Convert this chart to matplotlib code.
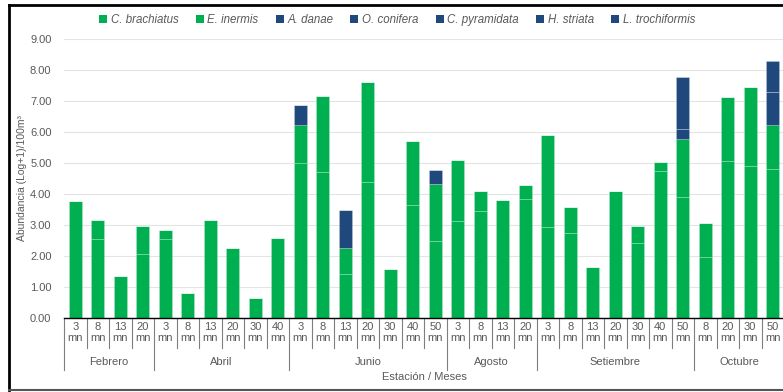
import matplotlib.pyplot as plt
import numpy as np
from matplotlib.lines import Line2D
from matplotlib.patches import Patch
from matplotlib.transforms import blended_transform_factory

plt.rcParams["font.family"] = ["Liberation Sans", "DejaVu Sans"]

# Stations (depth in mn) grouped by month
months = ["Febrero", "Abril", "Junio", "Agosto", "Setiembre", "Octubre"]
stations = [
    ["3", "8", "13", "20"],
    ["3", "8", "13", "20", "30", "40"],
    ["3", "8", "13", "20", "30", "40", "50"],
    ["3", "8", "13", "20"],
    ["3", "8", "13", "20", "30", "40", "50"],
    ["8", "20", "30", "50"],
]

species = ["C. brachiatus", "E. inermis", "A. danae", "O. conifera",
           "C. pyramidata", "H. striata", "L. trochiformis"]

# Abundance per species and station, log(x+1)/100m3
c_brachiatus = [3.77, 2.54, 1.35, 2.05,
                2.54, 0.81, 3.17, 2.26, 0.66, 2.58,
                4.99, 4.70, 1.41, 4.38, 1.58, 3.63, 2.49,
                3.12, 3.44, 3.81, 3.83,
                2.92, 2.73, 1.65, 4.10, 2.41, 4.73, 3.91,
                1.98, 5.05, 4.90, 4.80]
e_inermis = [0.00, 0.62, 0.00, 0.92,
             0.30, 0.00, 0.00, 0.00, 0.00, 0.00,
             1.22, 2.47, 0.84, 3.23, 0.00, 2.07, 1.83,
             1.99, 0.65, 0.00, 0.46,
             2.99, 0.84, 0.00, 0.00, 0.56, 0.31, 1.86,
             1.10, 2.08, 2.56, 1.43]
a_danae = [0, 0, 0, 0,
           0, 0, 0, 0, 0, 0,
           0.67, 0, 0, 0, 0, 0, 0,
           0, 0, 0, 0,
           0, 0, 0, 0, 0, 0, 0.32,
           0, 0, 0, 1.05]
o_conifera = [0, 0, 0, 0,
              0, 0, 0, 0, 0, 0,
              0, 0, 1.23, 0, 0, 0, 0,
              0, 0, 0, 0,
              0, 0, 0, 0, 0, 0, 0,
              0, 0, 0, 0]
c_pyramidata = [0, 0, 0, 0,
                0, 0, 0, 0, 0, 0,
                0, 0, 0, 0, 0, 0, 0.45,
                0, 0, 0, 0,
                0, 0, 0, 0, 0, 0, 0,
                0, 0, 0, 0]
h_striata = [0, 0, 0, 0,
             0, 0, 0, 0, 0, 0,
             0, 0, 0, 0, 0, 0, 0,
             0, 0, 0, 0,
             0, 0, 0, 0, 0, 0, 1.68,
             0, 0, 0, 0]
l_trochiformis = [0, 0, 0, 0,
                  0, 0, 0, 0, 0, 0,
                  0, 0, 0, 0, 0, 0, 0,
                  0, 0, 0, 0,
                  0, 0, 0, 0, 0, 0, 0,
                  0, 0, 0, 1.00]

series = [c_brachiatus, e_inermis, a_danae, o_conifera,
          c_pyramidata, h_striata, l_trochiformis]

green = "#00B050"
blue = "#1F497D"
colors = [green, green, blue, blue, blue, blue, blue]
text_gray = "#595959"
fs = 8

tick_labels = [f"{s}\nmn" for group in stations for s in group]
n = len(tick_labels)
x = np.arange(n)

fig = plt.figure(figsize=(7.83, 3.92), dpi=100)
ax = fig.add_axes([64 / 783, 1 - 318 / 392, 720 / 783, 279 / 392])

bottom = np.zeros(n)
for name, vals, col in zip(species, series, colors):
    vals = np.array(vals, dtype=float)
    ax.bar(x, vals, width=0.57, bottom=bottom, color=col,
           edgecolor=(1, 1, 1, 0.22), linewidth=0.6, label=name, zorder=3)
    bottom += vals

ax.set_xlim(-0.5, n - 0.5)
ax.set_ylim(0, 9)
ax.set_yticks(np.arange(0, 10, 1))
ax.set_yticklabels([f"{v:.2f}" for v in np.arange(0, 10, 1)])
ax.grid(axis="y", color="#E4E4E4", linewidth=0.8, zorder=0)
for side in ["top", "right", "left"]:
    ax.spines[side].set_visible(False)
ax.spines["bottom"].set_color("black")
ax.spines["bottom"].set_linewidth(1.0)
ax.spines["bottom"].set_zorder(4)

ax.set_xticks(x)
ax.set_xticklabels(tick_labels, linespacing=1.15)
ax.tick_params(axis="x", length=0, pad=3, labelsize=fs, labelcolor=text_gray)
ax.tick_params(axis="y", length=0, pad=9, labelsize=fs, labelcolor=text_gray)

ax.set_ylabel("Abundancia (Log+1)/100m³", fontsize=7.5, color=text_gray)
ax.yaxis.set_label_coords(-37 / 720, 0.5)

# Category separators below the axis
trans = blended_transform_factory(ax.transData, ax.transAxes)
short_y = -30 / 279
long_y = -52 / 279
group_edges = np.cumsum([0] + [len(g) for g in stations])
for i in range(n + 1):
    edge = i - 0.5
    y_end = long_y if i in group_edges else short_y
    ax.plot([edge, edge], [0, y_end], transform=trans, color="#7F7F7F",
            linewidth=0.8, clip_on=False)

for month, start, stop in zip(months, group_edges[:-1], group_edges[1:]):
    ax.text((start + stop - 1) / 2, -44 / 279, month, transform=trans,
            ha="center", va="center", fontsize=fs, color=text_gray)

ax.text(0.5, -59 / 279, "Estación / Meses", transform=ax.transAxes,
        ha="center", va="center", fontsize=fs, color=text_gray)

handles = [Patch(facecolor=c, edgecolor="none") for c in colors]
leg = fig.legend(handles, species, loc="center", bbox_to_anchor=(0.507, 0.949),
                 ncol=7, frameon=False, handlelength=0.7,
                 handleheight=0.7, handletextpad=0.3, columnspacing=1.5,
                 prop={"style": "italic", "size": 8.3})
for t in leg.get_texts():
    t.set_color(text_gray)

# Outer frame
fig.add_artist(Line2D([9 / 783, 1], [1 - 5 / 392, 1 - 5 / 392], color="black",
                      linewidth=2, transform=fig.transFigure))
fig.add_artist(Line2D([9 / 783, 9 / 783], [1 - 5 / 392, 1 - 390 / 392],
                      color="black", linewidth=2, transform=fig.transFigure))
fig.add_artist(Line2D([9 / 783, 1], [1 - 390 / 392, 1 - 390 / 392],
                      color="#555555", linewidth=1.5, transform=fig.transFigure))

fig.savefig("out.png", dpi=100)
